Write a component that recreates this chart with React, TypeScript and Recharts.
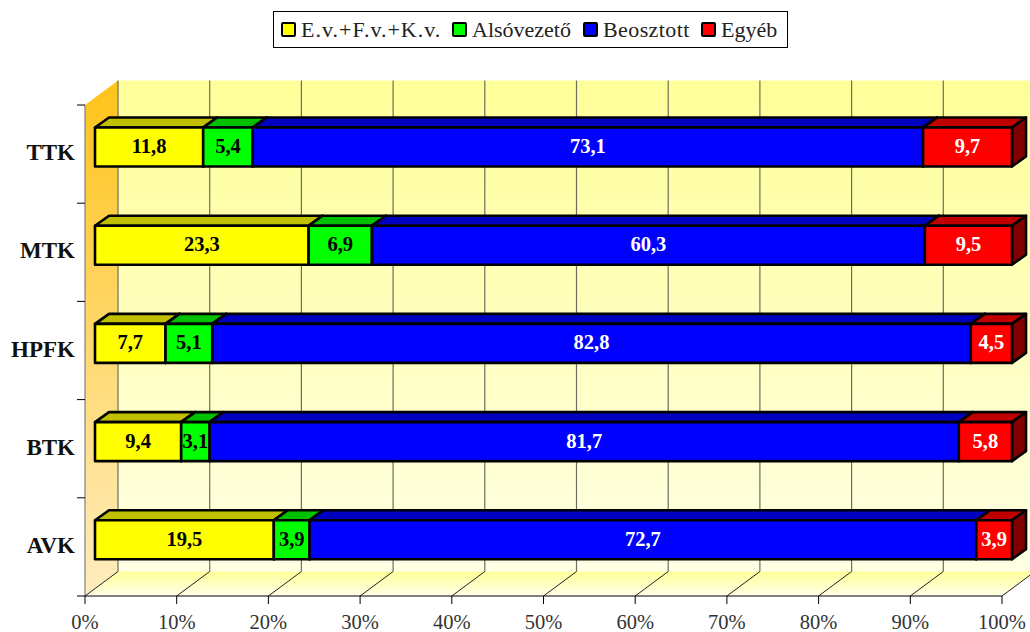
import React from 'react';
import { BarChart, Bar, XAxis, YAxis, Legend, Customized, LabelList } from 'recharts';

const categories = ['TTK', 'MTK', 'HPFK', 'BTK', 'AVK'];
const seriesNames = ['E.v.+F.v.+K.v.', 'Alsóvezető', 'Beosztott', 'Egyéb'];
const vezetok = [11.8, 23.3, 7.7, 9.4, 19.5];
const alsovezeto = [5.4, 6.9, 5.1, 3.1, 3.9];
const beosztott = [73.1, 60.3, 82.8, 81.7, 72.7];
const egyeb = [9.7, 9.5, 4.5, 5.8, 3.9];
const xTicks = [0, 0.1, 0.2, 0.3, 0.4, 0.5, 0.6, 0.7, 0.8, 0.9, 1];

const data = categories.map((c, i) => ({
  name: c,
  s0: vezetok[i],
  s1: alsovezeto[i],
  s2: beosztott[i],
  s3: egyeb[i],
}));

const FONT = '"Liberation Serif", serif';
const W = 1030;
const H = 632;
const L = 85;
const R = 1002;
const T = 105;
const B = 596;
const DX = 33;
const DY = 24.5;
const SHIFT_X = 10;
const SHIFT_Y = -7.5;
const BAR_DX = 14;
const BAR_DY = 10;

const Walls = () => {
  const xs = xTicks.map((t) => L + t * (R - L));
  return (
    <g>
      <defs>
        <linearGradient id="backG" x1="0" y1="0" x2="0" y2="1">
          <stop offset="0" stopColor="#FFFF99" />
          <stop offset="1" stopColor="#FFFFE4" />
        </linearGradient>
        <linearGradient id="sideG" x1="0" y1="0" x2="0" y2="1">
          <stop offset="0" stopColor="#FFC31A" />
          <stop offset="1" stopColor="#FFEDC0" />
        </linearGradient>
        <linearGradient id="floorG" x1="0" y1="0" x2="0" y2="1">
          <stop offset="0" stopColor="#FFFF99" />
          <stop offset="1" stopColor="#FFFFE8" />
        </linearGradient>
      </defs>
      <polygon points={`${L + DX},${T - DY} ${W},${T - DY} ${W},${B - DY} ${L + DX},${B - DY}`} fill="url(#backG)" />
      <polygon points={`${L},${T} ${L + DX},${T - DY} ${L + DX},${B - DY} ${L},${B}`} fill="url(#sideG)" />
      <polygon points={`${L},${B} ${L + DX},${B - DY} ${R + DX},${B - DY} ${R},${B}`} fill="url(#floorG)" />
      <line x1={L} y1={T} x2={L} y2={B} stroke="#808080" strokeWidth={1.2} />
      {xs.map((x, i) => (
        <g key={i}>
          <line x1={x + DX} y1={T - DY} x2={x + DX} y2={B - DY} stroke="#6e6e60" strokeWidth={1.2} />
          <line x1={x} y1={B} x2={x + DX} y2={B - DY} stroke="#222" strokeWidth={1} />
        </g>
      ))}
    </g>
  );
};

const shade: Record<string, [string, string]> = {
  '#FFFF00': ['#C0C000', '#808000'],
  '#00FF00': ['#00C000', '#008000'],
  '#0000FF': ['#0000C0', '#000080'],
  '#FF0000': ['#C00000', '#800000'],
};

const Box3D = (props: any) => {
  const { x, y, width, height, fill } = props;
  const x0 = x + SHIFT_X;
  const y0 = y + SHIFT_Y;
  const x1 = x0 + width;
  const y1 = y0 + height;
  const [top, side] = shade[fill];
  const common = { stroke: '#000', strokeWidth: 2.6, strokeLinejoin: 'round' as const };
  return (
    <g>
      <polygon
        points={`${x0},${y0} ${x0 + BAR_DX},${y0 - BAR_DY} ${x1 + BAR_DX},${y0 - BAR_DY} ${x1},${y0}`}
        fill={top}
        {...common}
      />
      <polygon
        points={`${x1},${y0} ${x1 + BAR_DX},${y0 - BAR_DY} ${x1 + BAR_DX},${y1 - BAR_DY} ${x1},${y1}`}
        fill={side}
        {...common}
      />
      <rect x={x0} y={y0} width={width} height={height} fill={fill} {...common} />
    </g>
  );
};

const valueLabel = (color: string) => (props: any) => {
  const { x, y, width, height, value } = props;
  return (
    <text
      x={x + SHIFT_X + width / 2}
      y={y + SHIFT_Y + height / 2 - 1}
      textAnchor="middle"
      dominantBaseline="central"
      fontFamily={FONT}
      fontWeight="bold"
      fontSize={20.5}
      fill={color}
    >
      {String(value).replace('.', ',')}
    </text>
  );
};

const CategoryTick = (props: any) => {
  const { y, payload, index } = props;
  const band = (B - T) / categories.length;
  const i = index ?? payload.index;
  return (
    <g>
      <line x1={L - 8} y1={y - band / 2} x2={L} y2={y - band / 2} stroke="#000" strokeWidth={1} />
      {i === categories.length - 1 && (
        <line x1={L - 8} y1={y + band / 2} x2={L} y2={y + band / 2} stroke="#000" strokeWidth={1} />
      )}
      <text
        x={75}
        y={y - 1.5}
        textAnchor="end"
        dominantBaseline="central"
        fontFamily={FONT}
        fontWeight="bold"
        fontSize={23}
        fill="#111"
      >
        {payload.value}
      </text>
    </g>
  );
};

const legendLefts = [7, 178, 309, 427];
const legendSpacing = [1, 0, 0.4, 0];

const LegendBox = (props: any) => {
  const items = props.payload || [];
  return (
    <div
      style={{
        position: 'relative',
        boxSizing: 'border-box',
        width: 515,
        height: 37,
        border: '1px solid #000',
        background: '#fff',
        fontFamily: FONT,
        fontSize: 22,
        color: '#222',
        whiteSpace: 'nowrap',
      }}
    >
      {items.map((it: any, i: number) => (
        <span
          key={i}
          style={{
            position: 'absolute',
            left: legendLefts[i],
            top: 0,
            height: 35,
            display: 'inline-flex',
            alignItems: 'center',
            letterSpacing: legendSpacing[i],
          }}
        >
          <span
            style={{
              boxSizing: 'border-box',
              width: 15,
              height: 15,
              background: it.color,
              border: '2.5px solid #000',
              borderRadius: 2,
              marginRight: 5,
            }}
          />
          {it.value}
        </span>
      ))}
    </div>
  );
};

export default function App() {
  return (
    <div style={{ position: 'absolute', left: 0, top: 0, width: W, height: H, overflow: 'hidden' }}>
      <BarChart
        width={W}
        height={H}
        data={data}
        layout="vertical"
        stackOffset="expand"
        barSize={39}
        margin={{ top: T, right: W - R, bottom: 0, left: 0 }}
      >
        <Customized component={<Walls />} />
        <XAxis
          type="number"
          domain={[0, 1]}
          ticks={xTicks}
          height={H - B}
          interval={0}
          tickFormatter={(v: number) => `${Math.round(v * 100)}%`}
          tick={{ fontFamily: FONT, fontSize: 20.5, fill: '#333' }}
          tickSize={8}
          tickMargin={10}
          axisLine={{ stroke: '#000' }}
          tickLine={{ stroke: '#000' }}
        />
        <YAxis
          type="category"
          dataKey="name"
          width={L}
          axisLine={false}
          tickLine={false}
          interval={0}
          tick={<CategoryTick />}
        />
        <Legend
          layout="horizontal"
          verticalAlign="middle"
          align="center"
          itemSorter={null}
          wrapperStyle={{ position: 'absolute', left: 273, top: 11, width: 515, height: 37 }}
          content={<LegendBox />}
        />
        <Bar dataKey="s0" name={seriesNames[0]} stackId="a" fill="#FFFF00" shape={<Box3D />} isAnimationActive={false}>
          <LabelList dataKey="s0" content={valueLabel('#000')} />
        </Bar>
        <Bar dataKey="s1" name={seriesNames[1]} stackId="a" fill="#00FF00" shape={<Box3D />} isAnimationActive={false}>
          <LabelList dataKey="s1" content={valueLabel('#000')} />
        </Bar>
        <Bar dataKey="s2" name={seriesNames[2]} stackId="a" fill="#0000FF" shape={<Box3D />} isAnimationActive={false}>
          <LabelList dataKey="s2" content={valueLabel('#fff')} />
        </Bar>
        <Bar dataKey="s3" name={seriesNames[3]} stackId="a" fill="#FF0000" shape={<Box3D />} isAnimationActive={false}>
          <LabelList dataKey="s3" content={valueLabel('#fff')} />
        </Bar>
      </BarChart>
    </div>
  );
}
